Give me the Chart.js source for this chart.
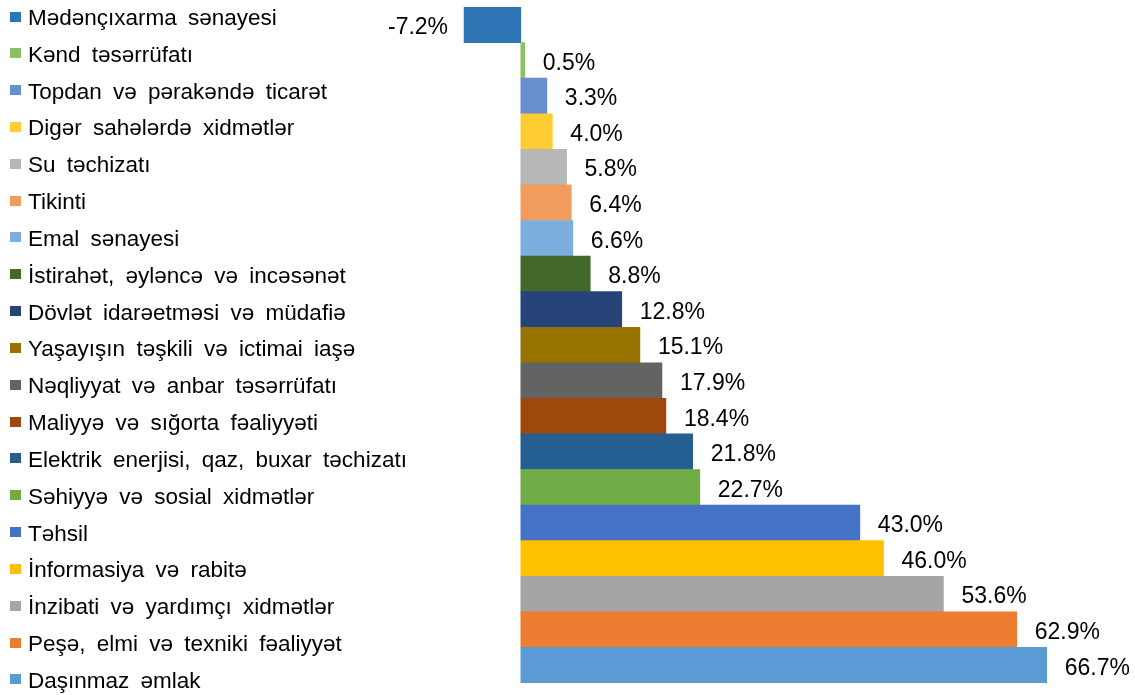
<!DOCTYPE html>
<html>
<head>
<meta charset="utf-8">
<script src="https://cdn.jsdelivr.net/npm/chart.js@4/dist/chart.umd.min.js"></script>
<style>
  html, body { margin: 0; padding: 0; background: #fff; }
  #wrap { position: relative; width: 1135px; height: 695px; overflow: hidden; }
  #legend {
    position: absolute; left: 10px; top: 0; margin: 0; padding: 0; list-style: none;
    font-family: "Liberation Sans", Arial, sans-serif; font-size: 22.5px; color: #000;
    word-spacing: 5px;
  }
  #legend li { position: relative; height: 36.83px; line-height: 36.83px; padding-left: 18px; white-space: nowrap; }
  #legend li span { position: absolute; left: 0; top: 11.5px; width: 11px; height: 10px; }
  canvas { position: absolute; left: 0; top: 0; }
</style>
</head>
<body>
<div id="wrap">
  <canvas id="myChart" width="1135" height="695"></canvas>
  <ul id="legend"></ul>
</div>
<script>
const categories = [
  "Mədənçıxarma sənayesi",
  "Kənd təsərrüfatı",
  "Topdan və pərakəndə ticarət",
  "Digər sahələrdə xidmətlər",
  "Su təchizatı",
  "Tikinti",
  "Emal sənayesi",
  "İstirahət, əyləncə və incəsənət",
  "Dövlət idarəetməsi və müdafiə",
  "Yaşayışın təşkili və ictimai iaşə",
  "Nəqliyyat və anbar təsərrüfatı",
  "Maliyyə və sığorta fəaliyyəti",
  "Elektrik enerjisi, qaz, buxar təchizatı",
  "Səhiyyə və sosial xidmətlər",
  "Təhsil",
  "İnformasiya və rabitə",
  "İnzibati və yardımçı xidmətlər",
  "Peşə, elmi və texniki fəaliyyət",
  "Daşınmaz əmlak"
];
const values = [-7.2, 0.5, 3.3, 4.0, 5.8, 6.4, 6.6, 8.8, 12.8, 15.1, 17.9, 18.4, 21.8, 22.7, 43.0, 46.0, 53.6, 62.9, 66.7];
const colors = [
  "#2E75B6", "#8CC063", "#698ED0", "#FFCD33", "#B7B7B7", "#F19B5D", "#7CAFDD",
  "#43682B", "#264478", "#997300", "#636363", "#9E480E", "#255E91", "#70AD47",
  "#4472C4", "#FFC000", "#A5A5A5", "#ED7D31", "#5B9BD5"
];

// legend on the left
const legend = document.getElementById("legend");
categories.forEach((c, i) => {
  const li = document.createElement("li");
  const box = document.createElement("span");
  box.style.background = colors[i];
  li.appendChild(box);
  li.appendChild(document.createTextNode(c));
  legend.appendChild(li);
});

// value labels next to each bar
const barLabels = {
  id: "barLabels",
  afterDatasetsDraw(chart) {
    const ctx = chart.ctx;
    const meta = chart.getDatasetMeta(0);
    ctx.save();
    ctx.font = '23px "Liberation Sans", Arial, sans-serif';
    ctx.fillStyle = "#000";
    ctx.textBaseline = "middle";
    meta.data.forEach((bar, i) => {
      const v = values[i];
      const txt = v.toFixed(1) + "%";
      if (v < 0) {
        ctx.textAlign = "right";
        ctx.fillText(txt, bar.x - 16, bar.y + 3);
      } else {
        ctx.textAlign = "left";
        ctx.fillText(txt, bar.x + 18, bar.y + 3);
      }
    });
    ctx.restore();
  },
};

const canvas = document.getElementById("myChart");
new Chart(canvas, {
  type: "bar",
  data: {
    labels: categories,
    datasets: [{ data: values, backgroundColor: colors, borderWidth: 0, barPercentage: 1, categoryPercentage: 1 }],
  },
  options: {
    indexAxis: "y",
    responsive: false,
    animation: false,
    devicePixelRatio: 1,
    layout: { padding: { left: 442, right: 15, top: 7, bottom: 12 } },
    plugins: { legend: { display: false }, tooltip: { enabled: false } },
    scales: {
      x: { display: false, min: -10, max: 76 },
      y: { display: false },
    },
  },
  plugins: [barLabels],
});
</script>
</body>
</html>
